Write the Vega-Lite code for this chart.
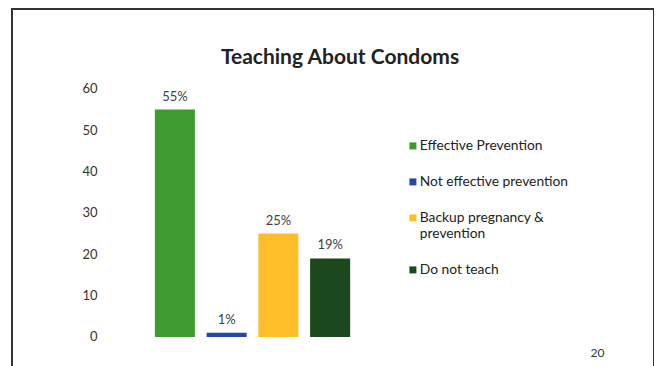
{
  "$schema": "https://vega.github.io/schema/vega-lite/v6.json",
  "width": 642,
  "height": 359,
  "autosize": {"type": "none"},
  "padding": {"left": 12, "top": 9, "right": 0, "bottom": 0},
  "background": "white",
  "config": {
    "view": {"stroke": "#333333", "strokeWidth": 2},
    "font": "Lato"
  },
  "title": {
    "text": "Teaching About Condoms",
    "fontSize": 21,
    "fontWeight": "bold",
    "font": "Lato",
    "color": "#222222",
    "anchor": "middle",
    "baseline": "alphabetic",
    "offset": -76,
    "dx": 7
  },
  "data": {
    "values": [
      {"category": "Effective Prevention", "value": 55, "label": "55%"},
      {"category": "Not effective prevention", "value": 1, "label": "1%"},
      {"category": "Backup pregnancy & prevention", "value": 25, "label": "25%"},
      {"category": "Do not teach", "value": 19, "label": "19%"}
    ]
  },
  "encoding": {
    "x": {
      "field": "category",
      "type": "nominal",
      "sort": null,
      "scale": {"range": [137, 344], "paddingInner": 0.226, "paddingOuter": 0.113},
      "axis": {
        "labels": false,
        "ticks": false,
        "domain": false,
        "title": "20",
        "titleX": 585,
        "titleY": -12,
        "titleAlign": "center",
        "titleBaseline": "alphabetic",
        "titleFontSize": 12,
        "titleFontWeight": "normal",
        "titleFont": "Lato",
        "titleColor": "#333333"
      }
    },
    "y": {
      "field": "value",
      "type": "quantitative",
      "scale": {"domain": [-7.5, 79.3], "nice": false, "zero": false},
      "axis": {
        "values": [0, 10, 20, 30, 40, 50, 60],
        "grid": false,
        "ticks": false,
        "tickSize": 0,
        "domain": false,
        "labelPadding": 0,
        "offset": -85,
        "labelFontSize": 13,
        "labelFont": "Lato",
        "labelColor": "#333333",
        "title": null
      }
    }
  },
  "layer": [
    {
      "mark": {"type": "bar"},
      "encoding": {
        "color": {
          "field": "category",
          "type": "nominal",
          "sort": null,
          "scale": {"range": ["#3f9a30", "#1f4aa8", "#fdbe2a", "#1b481d"]},
          "legend": {
            "title": null,
            "orient": "none",
            "legendX": 394,
            "legendY": 130,
            "symbolType": "square",
            "symbolSize": 49,
            "symbolStrokeWidth": 0,
            "labelFontSize": 13.8,
            "labelFont": "Lato",
            "labelColor": "#222222",
            "labelOffset": 0,
            "rowPadding": 21,
            "labelLimit": 300,
            "labelExpr": "datum.label == 'Backup pregnancy & prevention' ? ['Backup pregnancy &', 'prevention'] : datum.label"
          }
        }
      }
    },
    {
      "mark": {"type": "text", "dy": -9, "fontSize": 13, "font": "Lato", "color": "#404040", "baseline": "alphabetic"},
      "encoding": {"text": {"field": "label"}}
    }
  ]
}
